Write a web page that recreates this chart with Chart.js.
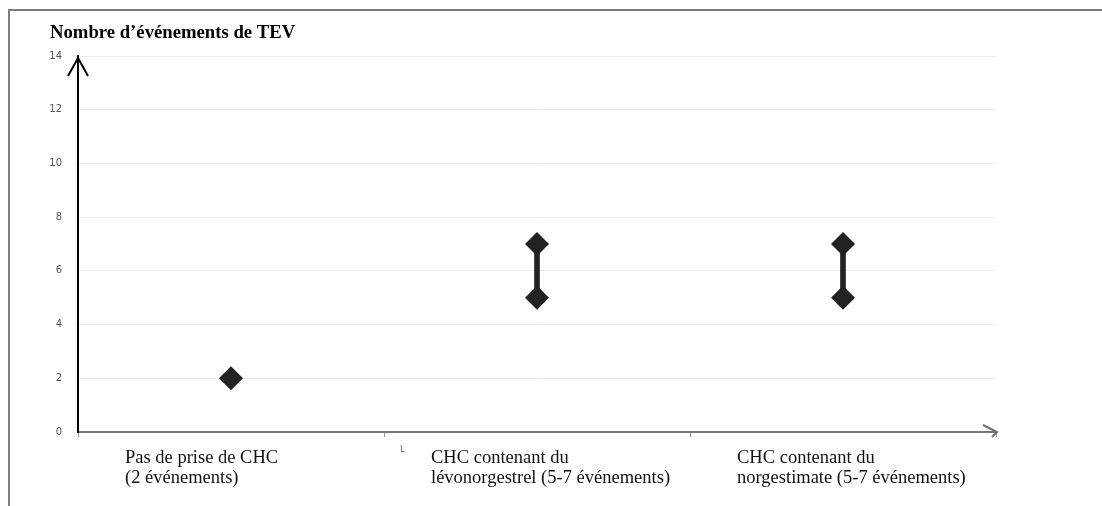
<!DOCTYPE html>
<html lang="fr">
<head>
<meta charset="utf-8">
<script src="https://cdn.jsdelivr.net/npm/chart.js@4.4.1/dist/chart.umd.min.js"></script>
<style>
  html, body { margin: 0; padding: 0; background: #fff; }
  #wrap { width: 1102px; height: 506px; }
</style>
</head>
<body>
<div id="wrap"><canvas id="tev" width="1102" height="506"></canvas></div>
<script>
// --- Données du graphique ---
const categories = [
  ['Pas de prise de CHC', '(2 événements)'],
  ['CHC contenant du', 'lévonorgestrel (5-7 événements)'],
  ['CHC contenant du', 'norgestimate (5-7 événements)']
];
const basValues = [2, 5, 5];       // borne basse (ou valeur unique)
const hautValues = [null, 7, 7];   // borne haute
const yTicks = [0, 2, 4, 6, 8, 10, 12, 14];
const titre = 'Nombre d’événements de TEV';

// intervalles min-max pour les barres flottantes
const intervalles = basValues.map((b, i) => hautValues[i] == null ? null : [b, hautValues[i]]);

// Plugin : cadre, flèches des axes, titre et étiquettes des catégories
const decorPlugin = {
  id: 'decor',
  afterDraw(chart) {
    const ctx = chart.ctx;
    const area = chart.chartArea;
    const xScale = chart.scales.x;
    ctx.save();

    // cadre gris
    ctx.strokeStyle = '#7d7d7d';
    ctx.lineWidth = 2;
    ctx.beginPath();
    ctx.moveTo(9, 506);
    ctx.lineTo(9, 10);
    ctx.lineTo(1102, 10);
    ctx.stroke();

    // flèche axe Y
    ctx.strokeStyle = '#000';
    ctx.lineWidth = 2;
    ctx.beginPath();
    ctx.moveTo(area.left - 10, area.top + 20);
    ctx.lineTo(area.left, area.top + 2);
    ctx.lineTo(area.left + 10, area.top + 20);
    ctx.stroke();

    // flèche axe X
    ctx.strokeStyle = '#6f6f6f';
    ctx.beginPath();
    ctx.moveTo(area.right - 13, area.bottom - 7);
    ctx.lineTo(area.right + 1, area.bottom);
    ctx.lineTo(area.right - 4, area.bottom + 5);
    ctx.stroke();

    // titre de l'axe Y
    ctx.fillStyle = '#000';
    ctx.textAlign = 'left';
    ctx.textBaseline = 'alphabetic';
    ctx.font = 'bold 18.7px "Liberation Serif"';
    ctx.fillText(titre, 50, 38);

    // étiquettes des catégories (alignées à gauche)
    ctx.font = '18.5px "Liberation Serif"';
    ctx.fillStyle = '#111';
    categories.forEach((lignes, i) => {
      const x0 = xScale.getPixelForValue(i) - 106;
      lignes.forEach((t, j) => ctx.fillText(t, x0, area.bottom + 31 + j * 20));
    });

    // petit artefact "L"
    ctx.font = '9px "DejaVu Sans"';
    ctx.fillStyle = '#666';
    ctx.fillText('L', 400, 452);

    ctx.restore();
  }
};

const ctx = document.getElementById('tev').getContext('2d');
const chart = new Chart(ctx, {
  data: {
    labels: categories.map(c => c.join(' ')),
    datasets: [
      {
        type: 'bar',
        data: intervalles,
        backgroundColor: '#222',
        barThickness: 5,
        borderWidth: 0
      },
      {
        type: 'line',
        data: basValues,
        showLine: false,
        pointStyle: 'rectRot',
        pointRadius: 12,
        pointBackgroundColor: '#222',
        pointBorderWidth: 0
      },
      {
        type: 'line',
        data: hautValues,
        showLine: false,
        pointStyle: 'rectRot',
        pointRadius: 12,
        pointBackgroundColor: '#222',
        pointBorderWidth: 0
      }
    ]
  },
  options: {
    responsive: false,
    animation: false,
    devicePixelRatio: 1,
    layout: { padding: { left: 38, right: 106, top: 56, bottom: 54 } },
    plugins: {
      legend: { display: false },
      tooltip: { enabled: false }
    },
    scales: {
      x: {
        type: 'category',
        offset: true,
        grid: {
          offset: true,
          drawOnChartArea: false,
          drawTicks: true,
          tickLength: 5,
          color: '#999'
        },
        border: { display: true, color: '#777', width: 2 },
        ticks: { display: false },
        afterFit(scale) { scale.height = 20; }
      },
      y: {
        min: 0,
        max: 14,
        afterBuildTicks(scale) { scale.ticks = yTicks.map(v => ({ value: v })); },
        grid: {
          color: '#ececec',
          lineWidth: 1,
          drawTicks: true,
          tickLength: 4
        },
        border: { display: true, color: '#000', width: 2 },
        ticks: {
          color: '#555',
          padding: 12,
          font: { family: 'DejaVu Sans', size: 10 }
        },
        afterFit(scale) { scale.width = 40; }
      }
    }
  },
  plugins: [decorPlugin]
});
</script>
</body>
</html>
